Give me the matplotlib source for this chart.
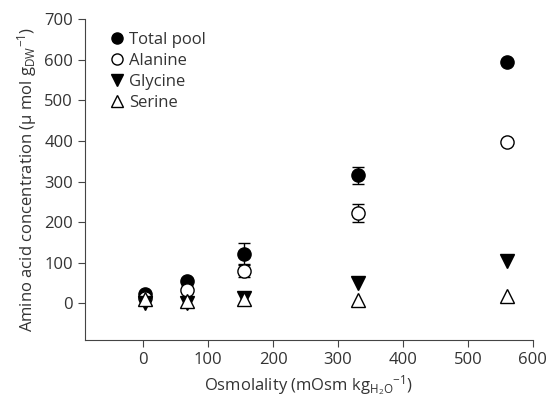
import matplotlib
matplotlib.use("Agg")
import matplotlib.pyplot as plt
from matplotlib.lines import Line2D

osm = [3, 68, 155, 330, 560]
total = [23, 56, 122, 315, 595]
total_err = [0, 0, 27, 21, 0]
alanine = [14, 34, 81, 222, 398]
alanine_err = [0, 0, 17, 22, 0]
glycine = [0, 2, 14, 50, 104]
serine = [10, 7, 12, 8, 19]
series_names = ['Total pool', 'Alanine', 'Glycine', 'Serine']

plt.rcParams['font.family'] = ['Open Sans', 'DejaVu Sans']
plt.rcParams['mathtext.fontset'] = 'custom'
plt.rcParams['mathtext.rm'] = 'Open Sans'
plt.rcParams['mathtext.it'] = 'Open Sans'
plt.rcParams['mathtext.bf'] = 'Open Sans'
tc = '#333333'
fs = 12

fig = plt.figure(figsize=(5.55, 4.0), dpi=100)
ax = fig.add_axes([0.153, 0.15, 0.807, 0.8025])

ms = 9.5
ax.errorbar(osm, total, yerr=total_err, fmt='o', color='black', mfc='black',
            ms=ms, capsize=4, elinewidth=1, zorder=3)
ax.errorbar(osm, alanine, yerr=alanine_err, fmt='o', color='black', mfc='white',
            ms=ms, capsize=4, elinewidth=1, zorder=4)
ax.plot(osm, glycine, 'v', color='black', ms=ms, linestyle='none', zorder=5)
ax.plot(osm, serine, '^', color='black', mfc='white', ms=ms, linestyle='none', zorder=6)

ax.set_xlim(-90, 600)
ax.set_ylim(-90, 700)
ax.set_xticks([0, 100, 200, 300, 400, 500, 600])
ax.set_yticks([0, 100, 200, 300, 400, 500, 600, 700])
for s in ['top', 'right']:
    ax.spines[s].set_visible(False)
for s in ['left', 'bottom']:
    ax.spines[s].set_color('#444444')
ax.tick_params(direction='out', length=5, colors='#444444', labelcolor=tc, labelsize=fs)

ax.set_xlabel(r'Osmolality (mOsm kg$_{\mathrm{H_2O}}$$^{-1}$)', fontsize=fs, color=tc)
ax.set_ylabel(r'Amino acid concentration ($\mathrm{\mu}$ mol g$_{\mathrm{DW}}$$^{-1}$)', fontsize=fs, color=tc)

lms = 8
handles = [
    Line2D([], [], marker='o', color='black', mfc='black', ms=lms, linestyle='none'),
    Line2D([], [], marker='o', color='black', mfc='white', ms=lms, linestyle='none'),
    Line2D([], [], marker='v', color='black', mfc='black', ms=lms, linestyle='none'),
    Line2D([], [], marker='^', color='black', mfc='white', ms=lms, linestyle='none'),
]
leg = ax.legend(handles, series_names, loc='upper left', bbox_to_anchor=(0.05, 0.96),
                frameon=False, fontsize=fs, handletextpad=0.1, labelspacing=0.3,
                borderaxespad=0.0, handlelength=1.2, borderpad=0.0)
for t in leg.get_texts():
    t.set_color(tc)

fig.savefig('out.png', dpi=100)
